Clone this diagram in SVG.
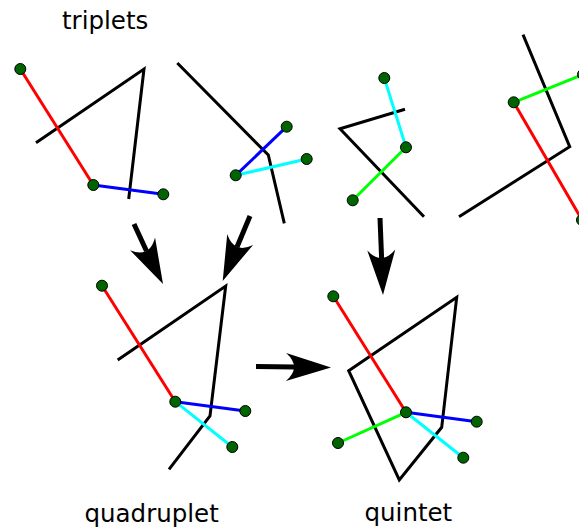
<svg xmlns="http://www.w3.org/2000/svg" width="579" height="530" viewBox="0 0 579 530">
<defs>
<style>
.k{fill:none;stroke:#000;stroke-width:3;stroke-linejoin:miter}
.r{stroke:#f00;stroke-width:3}
.b{stroke:#00f;stroke-width:3}
.c{stroke:#0ff;stroke-width:3}
.g{stroke:#0f0;stroke-width:3}
.d{fill:#006400;stroke:#000;stroke-width:1}
.sh{stroke:#000;stroke-width:5}
.lbl{font-family:"DejaVu Sans",sans-serif;font-size:24.5px;fill:#000}
</style>
<path id="head" d="M0,0 L-45,-14 Q-29,0 -45,14 Z" fill="#000"/>
</defs>
<text class="lbl" x="62" y="28.5">triplets</text>
<text class="lbl" x="84.5" y="521.5">quadruplet</text>
<text class="lbl" x="364.5" y="521">quintet</text>
<g id="triplet1">
<polyline class="k" points="36,142.7 144,69 128.7,199"/>
<line class="r" x1="20.3" y1="69" x2="93.3" y2="185"/>
<line class="b" x1="93.3" y1="185" x2="163.3" y2="194.3"/>
<circle class="d" cx="20.3" cy="69" r="5.5"/>
<circle class="d" cx="93.3" cy="185" r="5.5"/>
<circle class="d" cx="163.3" cy="194.3" r="5.5"/>
</g>
<g id="triplet2">
<polyline class="k" points="177.3,63 268.3,155 284.3,223.3"/>
<line class="b" x1="235.7" y1="175.3" x2="286.7" y2="126.7"/>
<line class="c" x1="235.7" y1="175.3" x2="306.7" y2="159"/>
<circle class="d" cx="235.7" cy="175.3" r="5.5"/>
<circle class="d" cx="286.7" cy="126.7" r="5.5"/>
<circle class="d" cx="306.7" cy="159" r="5.5"/>
</g>
<g id="triplet3">
<polyline class="k" points="405,109.3 340,128.7 424,216.7"/>
<line class="c" x1="384.3" y1="78" x2="406" y2="147.3"/>
<line class="g" x1="406" y1="147.3" x2="352.7" y2="200.3"/>
<circle class="d" cx="384.3" cy="78" r="5.5"/>
<circle class="d" cx="406" cy="147.3" r="5.5"/>
<circle class="d" cx="352.7" cy="200.3" r="5.5"/>
</g>
<g id="triplet4">
<polyline class="k" points="523,34.7 569.7,146.7 459,216.7"/>
<line class="g" x1="513.7" y1="102.3" x2="583" y2="74.5"/>
<line class="r" x1="513.7" y1="102.3" x2="582" y2="220"/>
<circle class="d" cx="513.7" cy="102.3" r="5.5"/>
<circle class="d" cx="583" cy="74.5" r="5.5"/>
<circle class="d" cx="582" cy="220" r="5.5"/>
</g>
<g id="quadruplet">
<polyline class="k" points="117.7,360 225.7,286 210,416 169,469.3"/>
<line class="r" x1="102" y1="285.7" x2="175.3" y2="401.7"/>
<line class="b" x1="175.3" y1="401.7" x2="245.3" y2="411"/>
<line class="c" x1="175.3" y1="401.7" x2="232.3" y2="447"/>
<circle class="d" cx="102" cy="285.7" r="5.5"/>
<circle class="d" cx="175.3" cy="401.7" r="5.5"/>
<circle class="d" cx="245.3" cy="411" r="5.5"/>
<circle class="d" cx="232.3" cy="447" r="5.5"/>
</g>
<g id="quintet">
<polygon class="k" points="348.7,370.7 456.7,297.3 441.7,427.3 399.3,480"/>
<line class="r" x1="333.3" y1="296.3" x2="406" y2="412.3"/>
<line class="b" x1="406" y1="412.3" x2="476.7" y2="421.7"/>
<line class="c" x1="406" y1="412.3" x2="463.3" y2="457.7"/>
<line class="g" x1="406" y1="412.3" x2="338" y2="443"/>
<circle class="d" cx="333.3" cy="296.3" r="5.5"/>
<circle class="d" cx="476.7" cy="421.7" r="5.5"/>
<circle class="d" cx="463.3" cy="457.7" r="5.5"/>
<circle class="d" cx="338" cy="443" r="5.5"/>
<circle class="d" cx="406" cy="412.3" r="5.5"/>
</g>
<g id="connectors">
<line class="sh" x1="134" y1="224" x2="146.5" y2="251"/>
<use href="#head" transform="translate(163,284) rotate(63)"/>
<line class="sh" x1="250" y1="216" x2="237" y2="247"/>
<use href="#head" transform="translate(222.7,281) rotate(112.8)"/>
<line class="sh" x1="256" y1="366.5" x2="294" y2="367"/>
<use href="#head" transform="translate(331,367.5) rotate(0.6)"/>
<line class="sh" x1="380" y1="218" x2="381.6" y2="258"/>
<use href="#head" transform="translate(383,295) rotate(87.8)"/>
</g>
</svg>
